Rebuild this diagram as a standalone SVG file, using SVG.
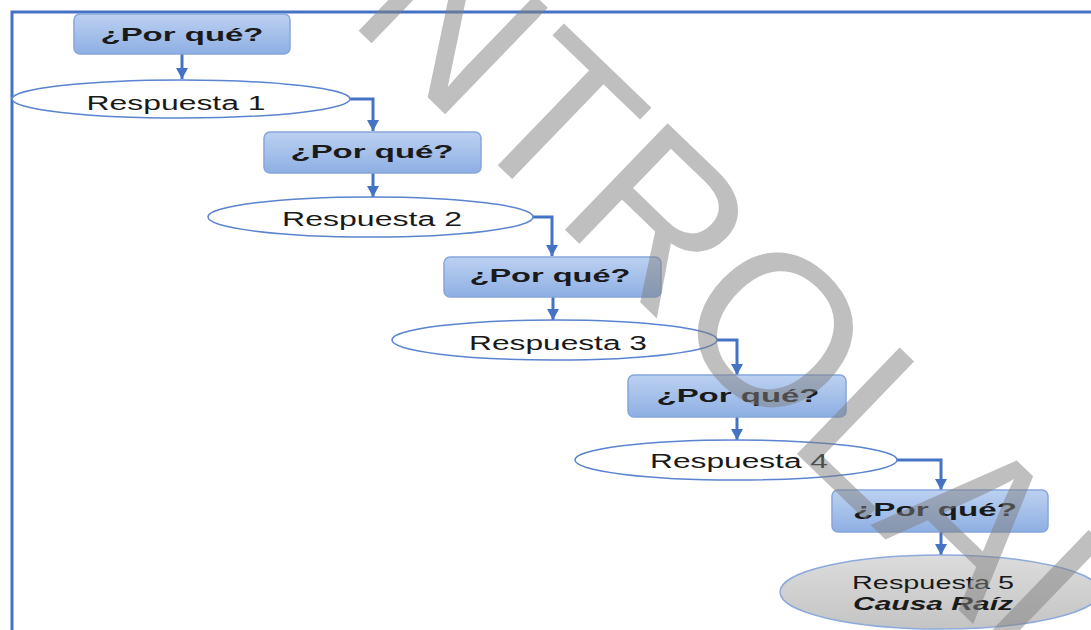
<svg xmlns="http://www.w3.org/2000/svg" width="1091" height="630" viewBox="0 0 1091 630">
<defs>
<linearGradient id="gBox" x1="0" y1="0" x2="0" y2="1">
<stop offset="0" stop-color="#bcd1f1"/>
<stop offset="1" stop-color="#8eafe3"/>
</linearGradient>
<linearGradient id="gGray" x1="0" y1="0" x2="0" y2="1">
<stop offset="0" stop-color="#dcdcdc"/>
<stop offset="1" stop-color="#c4c4c4"/>
</linearGradient>
<marker id="arr" markerUnits="userSpaceOnUse" markerWidth="14" markerHeight="12" refX="11" refY="6" orient="auto">
<path d="M0,0 L11,6 L0,12 z" fill="#4472c4"/>
</marker>
</defs>
<style>
.box{fill:url(#gBox);stroke:#86a6dc;stroke-width:1.5}
.ell{fill:#fff;stroke:#5a84cf;stroke-width:1.5}
.ell5{fill:url(#gGray);stroke:#8eaadc;stroke-width:1.5}
.q{font-family:"Liberation Sans",Arial,sans-serif;font-weight:bold;font-size:19px;fill:#1a1a1a}
.r{font-family:"Liberation Sans",Arial,sans-serif;font-size:20px;fill:#1a1a1a}
.r5{font-family:"Liberation Sans",Arial,sans-serif;font-size:18px;fill:#1a1a1a}
.ri{font-family:"Liberation Sans",Arial,sans-serif;font-size:18px;font-weight:bold;font-style:italic;fill:#1a1a1a}
.con{fill:none;stroke:#4472c4;stroke-width:3;marker-end:url(#arr)}
.wm{font-family:"Liberation Sans",Arial,sans-serif;font-size:215px;fill:#808080;opacity:0.5}
</style>
<rect width="1091" height="630" fill="#fff"/>
<path d="M12,630 L12,12 L1091,12" fill="none" stroke="#4472c4" stroke-width="3"/>

<g id="connectors">
<path class="con" d="M182,54 L182,79"/>
<path class="con" d="M350,99 L373,99 L373,131"/>
<path class="con" d="M373,173 L373,197"/>
<path class="con" d="M533,217 L552,217 L552,256"/>
<path class="con" d="M553,297 L553,320"/>
<path class="con" d="M717,340 L737,340 L737,375"/>
<path class="con" d="M737,417 L737,440"/>
<path class="con" d="M897,460 L941,460 L941,490"/>
<path class="con" d="M941,532 L941,555"/>
</g>

<g id="q1"><rect class="box" x="74" y="14" width="216" height="40" rx="6"/><text class="q" x="182" y="41" text-anchor="middle" textLength="163" lengthAdjust="spacingAndGlyphs">¿Por qué?</text></g>
<g id="r1"><ellipse class="ell" cx="181" cy="99" rx="169" ry="19"/><text class="r" x="176" y="110" text-anchor="middle" textLength="179" lengthAdjust="spacingAndGlyphs">Respuesta 1</text></g>
<g id="q2"><rect class="box" x="264" y="132" width="217" height="41" rx="6"/><text class="q" x="372" y="158" text-anchor="middle" textLength="163" lengthAdjust="spacingAndGlyphs">¿Por qué?</text></g>
<g id="r2"><ellipse class="ell" cx="370.5" cy="217" rx="162.5" ry="20"/><text class="r" x="372" y="226" text-anchor="middle" textLength="180" lengthAdjust="spacingAndGlyphs">Respuesta 2</text></g>
<g id="q3"><rect class="box" x="444" y="257" width="217" height="40" rx="6"/><text class="q" x="550" y="282" text-anchor="middle" textLength="161" lengthAdjust="spacingAndGlyphs">¿Por qué?</text></g>
<g id="r3"><ellipse class="ell" cx="554.5" cy="340" rx="162.5" ry="20"/><text class="r" x="558" y="350" text-anchor="middle" textLength="178" lengthAdjust="spacingAndGlyphs">Respuesta 3</text></g>
<g id="q4"><rect class="box" x="628" y="375" width="218" height="42" rx="6"/><text class="q" x="738" y="402" text-anchor="middle" textLength="163" lengthAdjust="spacingAndGlyphs">¿Por qué?</text></g>
<g id="r4"><ellipse class="ell" cx="736" cy="460" rx="161" ry="20"/><text class="r" x="739" y="468" text-anchor="middle" textLength="178" lengthAdjust="spacingAndGlyphs">Respuesta 4</text></g>
<g id="q5"><rect class="box" x="832" y="490" width="216" height="42" rx="6"/><text class="q" x="935" y="516" text-anchor="middle" textLength="164" lengthAdjust="spacingAndGlyphs">¿Por qué?</text></g>
<g id="r5"><ellipse class="ell5" cx="940" cy="592" rx="160" ry="37"/><text class="r5" x="933" y="589" text-anchor="middle" textLength="162" lengthAdjust="spacingAndGlyphs">Respuesta 5</text><text class="ri" x="933" y="610" text-anchor="middle" textLength="160" lengthAdjust="spacingAndGlyphs">Causa Raíz</text></g>

<g id="watermark"><text class="wm" transform="translate(114,-205.5) rotate(44)">CONTROLADA</text></g>
</svg>
